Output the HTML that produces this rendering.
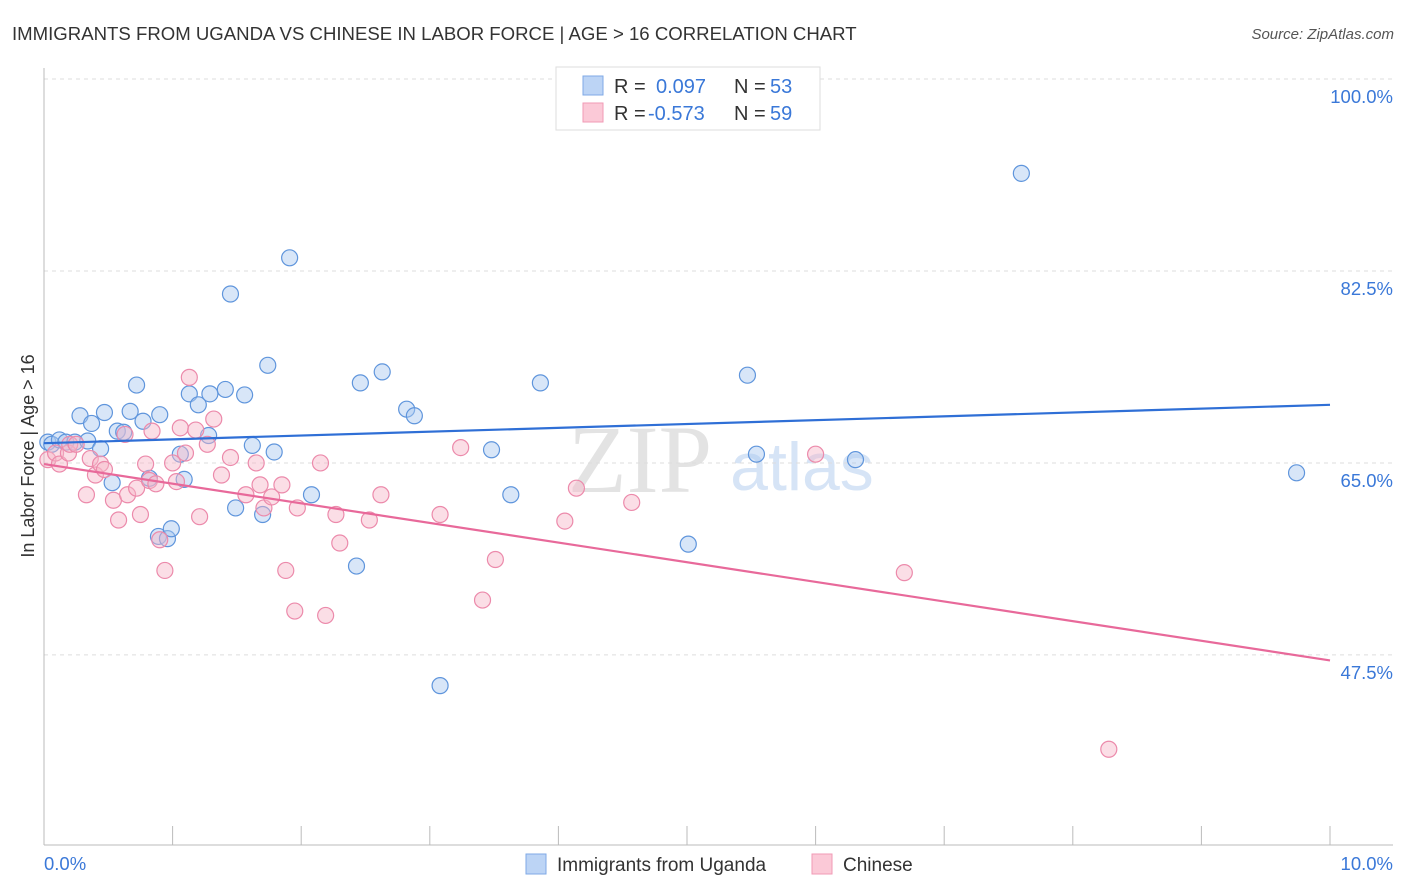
<!DOCTYPE html>
<html><head><meta charset="utf-8"><style>
body{margin:0;background:#fff;font-family:"Liberation Sans",sans-serif;}
svg{display:block}
</style></head><body>
<svg id="chart" width="1406" height="892">
<text x="12" y="40" font-size="18.6" fill="#333">IMMIGRANTS FROM UGANDA VS CHINESE IN LABOR FORCE | AGE &gt; 16 CORRELATION CHART</text>
<text x="1394" y="39" font-size="15" fill="#555" font-style="italic" text-anchor="end">Source: ZipAtlas.com</text>
<text x="640" y="492" font-size="96" fill="#e3e3e3" font-family="Liberation Serif,serif" text-anchor="middle">ZIP</text>
<text x="802" y="490" font-size="68" fill="#d6e4f6" text-anchor="middle">atlas</text>
<text transform="translate(34,456) rotate(-90)" font-size="18" fill="#333" text-anchor="middle">In Labor Force | Age &gt; 16</text>
<g id="grid"></g><g id="pts"></g><g id="lines"></g>
<g>
<rect x="556" y="67" width="264" height="63" fill="#fff" stroke="#ddd"/>
<rect x="583" y="76" width="20" height="19" fill="#bcd4f5" stroke="#7fa9e6"/>
<rect x="583" y="103" width="20" height="19" fill="#fbc9d7" stroke="#f09ab5"/>
<text x="614" y="93" font-size="20" fill="#333">R =</text>
<text x="656" y="93" font-size="20" fill="#3a78d8">0.097</text>
<text x="734" y="93" font-size="20" fill="#333">N =</text>
<text x="770" y="93" font-size="20" fill="#3a78d8">53</text>
<text x="614" y="120" font-size="20" fill="#333">R =</text>
<text x="648" y="120" font-size="20" fill="#3a78d8">-0.573</text>
<text x="734" y="120" font-size="20" fill="#333">N =</text>
<text x="770" y="120" font-size="20" fill="#3a78d8">59</text>
</g>
<g>
<rect x="526" y="854" width="20" height="20" fill="#bcd4f5" stroke="#7fa9e6"/>
<text x="557" y="871" font-size="19" fill="#333">Immigrants from Uganda</text>
<rect x="812" y="854" width="20" height="20" fill="#fbc9d7" stroke="#f09ab5"/>
<text x="843" y="871" font-size="19" fill="#333">Chinese</text>
</g>
</svg>
<script>
const yTicks=[100,82.5,65,47.5];
const yTickLabels=["100.0%","82.5%","65.0%","47.5%"];
const xTickLabels=["0.0%","10.0%"];
const blueX=[0.03,0.06,0.12,0.17,0.24,0.28,0.34,0.37,0.44,0.47,0.53,0.57,0.62,0.67,0.72,0.77,0.82,0.89,0.9,0.96,0.99,1.06,1.09,1.13,1.2,1.28,1.29,1.41,1.45,1.49,1.56,1.62,1.7,1.74,1.79,1.91,2.08,2.43,2.46,2.63,2.82,2.88,3.08,3.48,3.63,3.86,5.01,5.47,5.54,6.31,7.6,9.74];
const blueY=[66.9,66.7,67.1,66.9,66.9,69.3,67.0,68.6,66.3,69.6,63.2,67.9,67.8,69.7,72.1,68.8,63.6,58.3,69.4,58.1,59.0,65.8,63.5,71.3,70.3,67.5,71.3,71.7,80.4,60.9,71.2,66.6,60.3,73.9,66.0,83.7,62.1,55.6,72.3,73.3,69.9,69.3,44.7,66.2,62.1,72.3,57.6,73.0,65.8,65.3,91.4,64.1];
const pinkX=[0.03,0.09,0.12,0.19,0.2,0.25,0.33,0.36,0.4,0.44,0.47,0.54,0.58,0.63,0.65,0.72,0.75,0.79,0.82,0.84,0.87,0.9,0.94,1.0,1.03,1.06,1.1,1.13,1.18,1.21,1.27,1.32,1.38,1.45,1.57,1.65,1.68,1.71,1.77,1.85,1.88,1.95,1.97,2.15,2.19,2.27,2.3,2.53,2.62,3.08,3.24,3.41,3.51,4.05,4.14,4.57,6.0,6.69,8.28];
const pinkY=[65.3,65.9,64.9,65.9,66.7,66.7,62.1,65.4,63.9,64.9,64.4,61.6,59.8,67.6,62.1,62.7,60.3,64.9,63.4,67.9,63.1,58.0,55.2,65.0,63.3,68.2,65.9,72.8,68.0,60.1,66.7,69.0,63.9,65.5,62.1,65.0,63.0,60.9,61.9,63.0,55.2,51.5,60.9,65.0,51.1,60.3,57.7,59.8,62.1,60.3,66.4,52.5,56.2,59.7,62.7,61.4,65.8,55.0,38.9];
const blueLine=[66.8,70.3];
const pinkLine=[64.9,47.0];
const X=v=>44+v*128.6, Y=v=>79+(100-v)*10.97;
const NS="http://www.w3.org/2000/svg";
function mk(tag,attrs,parent){const e=document.createElementNS(NS,tag);for(const k in attrs)e.setAttribute(k,attrs[k]);document.getElementById(parent).appendChild(e);return e;}
yTicks.forEach((t,i)=>{
 const g=mk('line',{x1:44,x2:1393,y1:Y(t),y2:Y(t),stroke:'#ddd','stroke-dasharray':'4,4'},'grid');
 
 
 const l=mk('text',{x:1393,y:Y(t)+24,'font-size':18.5,fill:'#3a78d8','text-anchor':'end'},'grid');
 l.textContent=yTickLabels[i];
 
 
});
const ax=mk('line',{x1:44,x2:1393,y1:845,y2:845,stroke:'#bbb'},'grid');


const ay=mk('line',{x1:44,x2:44,y1:68,y2:845,stroke:'#bbb'},'grid');


for(let i=0;i<=10;i++){
 const t=mk('line',{x1:X(i),x2:X(i),y1:826,y2:845,stroke:'#bbb'},'grid');
 
 
}
[[0,'start'],[10,'end']].forEach((a,i)=>{
 const l=mk('text',{x:i?1393:44,y:870,'font-size':18.5,fill:'#3a78d8','text-anchor':a[1]},'grid');
 l.textContent=xTickLabels[i];
 
 
});
function dots(xs,ys,fill,stroke,name){xs.forEach((x,i)=>{
 const c=mk('circle',{cx:X(x),cy:Y(ys[i]),r:8,fill:fill,'fill-opacity':0.45,stroke:stroke,'stroke-width':1.2},'pts');
 
 
});}
dots(blueX,blueY,'#a9c8f0','#5f95dc','uganda-point');
dots(pinkX,pinkY,'#f7b6c8','#ec8aab','chinese-point');
const b=mk('line',{x1:X(0),x2:X(10),y1:Y(blueLine[0]),y2:Y(blueLine[1]),stroke:'#2f6fd6','stroke-width':2.2},'lines');


const p=mk('line',{x1:X(0),x2:X(10),y1:Y(pinkLine[0]),y2:Y(pinkLine[1]),stroke:'#e8699a','stroke-width':2.2},'lines');


</script>
</body></html>
